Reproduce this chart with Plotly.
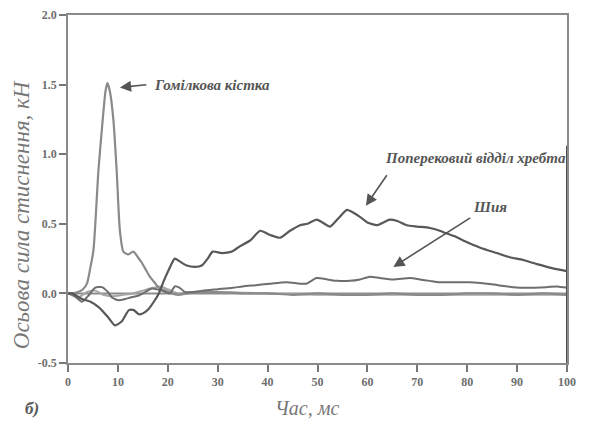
import plotly.graph_objects as go

# ---- data ----
tibia_x = [0, 1, 2, 3, 3.8, 4.4, 5.1, 6.1, 6.95, 7.5, 7.9, 8.4, 9.1, 9.75, 10.4, 11.1, 12.0, 13.1,
           14.0, 14.8, 15.6, 16.4, 17.3, 18.2, 19.5, 20.8, 22, 24, 27, 30, 35, 40, 45, 50, 55, 60,
           65, 70, 75, 80, 85, 90, 95, 100]
tibia_y = [0, 0, 0.01, 0.03, 0.07, 0.17, 0.31, 0.885, 1.245, 1.45, 1.51, 1.45, 1.245, 0.885, 0.45,
           0.30, 0.28, 0.30, 0.26, 0.22, 0.17, 0.12, 0.08, 0.04, 0.02, 0.0, -0.01, 0.0, 0.01, 0.01,
           0.0, 0.0, -0.01, 0.0, -0.01, -0.01, 0.0, -0.01, -0.01, 0.0, 0.0, -0.01, 0.0, -0.01]

lumbar_x = [0, 0.8, 2.8, 4.5, 6.2, 8, 9.4, 10.8, 12.2, 13.2, 14.2, 15.2, 16.2, 17.2, 18.2, 19.2,
            20.2, 21.4, 22.4, 23.8, 25.5, 26.8, 28, 29, 30.8, 32.8, 34.5, 36.5, 38.5, 40.5, 42.5,
            44.5, 46.5, 48, 49.8, 51, 52.5, 54.2, 55.9, 57.2, 58.5, 60, 61.9, 63.2, 64.5, 66, 67.9,
            70, 72.5, 74.5, 75.9, 77.5, 79.2, 82.5, 85.9, 88.5, 91.2, 94, 97.2, 100]
lumbar_y = [0, 0, -0.04, -0.06, -0.1, -0.17, -0.23, -0.2, -0.12, -0.12, -0.15, -0.14, -0.11, -0.06,
            0, 0.09, 0.17, 0.25, 0.23, 0.2, 0.19, 0.2, 0.25, 0.3, 0.29, 0.3, 0.34, 0.38, 0.45, 0.42,
            0.40, 0.45, 0.49, 0.5, 0.53, 0.51, 0.48, 0.54, 0.6, 0.58, 0.55, 0.51, 0.49, 0.51, 0.53,
            0.52, 0.49, 0.48, 0.47, 0.45, 0.43, 0.41, 0.38, 0.33, 0.29, 0.26, 0.24, 0.21, 0.18, 0.16]

neck_x = [0, 1, 2.8, 4, 5.4, 6.8, 8, 8.8, 10.2, 11.5, 12.5, 14.2, 15.5, 16.8, 18.8, 20.4, 21.4,
          22.4, 23.4, 25, 27, 30, 33, 35, 38, 40.5, 43.8, 46.5, 47.8, 49.8, 52, 54, 56.5, 58.5,
          60.5, 62.5, 65.2, 68.5, 70.5, 72.5, 74.5, 77.5, 80.5, 84, 86, 89.2, 92, 95.9, 98, 100]
neck_y = [0, -0.01, -0.06, -0.02, 0.04, 0.045, 0.01, -0.03, -0.05, -0.04, -0.03, -0.015, 0.01,
          0.035, 0.02, 0.0, 0.05, 0.04, 0.01, 0.01, 0.02, 0.03, 0.04, 0.05, 0.06, 0.07, 0.08,
          0.07, 0.07, 0.11, 0.1, 0.09, 0.09, 0.1, 0.12, 0.11, 0.1, 0.11, 0.1, 0.09, 0.08, 0.08,
          0.08, 0.07, 0.06, 0.045, 0.04, 0.045, 0.05, 0.04]

other_x = [0, 2, 3.8, 5.5, 7, 9, 11, 13, 15, 17, 18.5, 20, 22, 25, 30, 40, 50, 60, 70, 80, 90, 100]
other_y = [0, -0.03, 0.01, 0.02, -0.01, -0.02, -0.01, 0.0, 0.02, 0.04, 0.05, 0.03, 0.0, 0.01,
           0.01, 0.0, -0.01, -0.01, -0.01, -0.01, -0.01, -0.01]

x_ticks = [0, 10, 20, 30, 40, 50, 60, 70, 80, 90, 100]
y_ticks = [-0.5, 0.0, 0.5, 1.0, 1.5, 2.0]
y_tick_labels = ["-0.5", "0.0", "0.5", "1.0", "1.5", "2.0"]

x_title = "Час, мс"
y_title = "Осьова сила стиснення, кН"
lbl_tibia = "Гомілкова кістка"
lbl_lumbar = "Поперековий відділ хребта"
lbl_neck = "Шия"
panel = "б)"

SERIF = "Liberation Serif, Times New Roman, serif"

fig = go.Figure()

# zero reference line
fig.add_trace(go.Scatter(x=[0, 100], y=[0, 0], mode="lines",
                         line=dict(color="#8c8c8c", width=2), hoverinfo="skip"))

sp = dict(shape="spline", smoothing=0.6)
fig.add_trace(go.Scatter(x=other_x, y=other_y, mode="lines", line=dict(color="#a6a6a6", width=2, **sp)))
fig.add_trace(go.Scatter(x=tibia_x, y=tibia_y, mode="lines", line=dict(color="#8a8a8a", width=2.2, **sp)))
fig.add_trace(go.Scatter(x=neck_x, y=neck_y, mode="lines", line=dict(color="#6e6e6e", width=2, **sp)))
fig.add_trace(go.Scatter(x=lumbar_x, y=lumbar_y, mode="lines", line=dict(color="#585858", width=2.2, **sp)))

# darker lower part of the right frame edge (as in the scan)
fig.add_shape(type="line", xref="x", yref="y", x0=100, x1=100, y0=-0.5, y1=1.06,
              line=dict(color="#505050", width=2))

afont = dict(family=SERIF, size=15, color="#555555", weight="bold")

arrow = dict(showarrow=True, arrowhead=2, arrowsize=1.4, arrowwidth=1.6, arrowcolor="#555555",
             xref="x", yref="y", axref="x", ayref="y", text="")

fig.add_annotation(x=10.4, y=1.48, ax=16.0, ay=1.50, **arrow)
fig.add_annotation(x=16.8, y=1.50, xref="x", yref="y", text="<i>" + lbl_tibia + "</i>",
                   showarrow=False, xanchor="left", yanchor="middle", font=afont)

fig.add_annotation(x=59.7, y=0.63, ax=64.1, ay=0.86, **arrow)
fig.add_annotation(x=81.6, y=0.97, xref="x", yref="y", text="<i>" + lbl_lumbar + "</i>",
                   showarrow=False, xanchor="center", yanchor="middle", font=afont)

fig.add_annotation(x=65.2, y=0.19, ax=80.9, ay=0.55, **arrow)
fig.add_annotation(x=84.6, y=0.62, xref="x", yref="y", text="<i>" + lbl_neck + "</i>",
                   showarrow=False, xanchor="center", yanchor="middle", font=afont)

# axis titles and panel label
fig.add_annotation(x=0.479, y=-0.13, xref="paper", yref="paper", text="<i>" + x_title + "</i>",
                   showarrow=False, yanchor="middle",
                   font=dict(family=SERIF, size=20, color="#777777"))
fig.add_annotation(x=-0.094, y=0.425, xref="paper", yref="paper", text="<i>" + y_title + "</i>",
                   showarrow=False, textangle=-90, xanchor="center", yanchor="middle",
                   font=dict(family=SERIF, size=23, color="#777777"))
fig.add_annotation(x=-0.09, y=-0.13, xref="paper", yref="paper", text="<i><b>" + panel + "</b></i>",
                   showarrow=False, yanchor="middle",
                   font=dict(family=SERIF, size=17, color="#555555"))

tickfont = dict(family=SERIF, size=12, color="#6e6e6e", weight="bold")
fig.update_xaxes(range=[0, 100], tickvals=x_ticks, ticks="outside", ticklen=7, tickwidth=1.5,
                 tickcolor="#777777", showline=True, linecolor="#8a8a8a", linewidth=1.5,
                 mirror=True, showgrid=False, zeroline=False, tickfont=tickfont, automargin=False)
fig.update_yaxes(range=[-0.5, 2.0], tickvals=y_ticks, ticktext=y_tick_labels, ticks="outside",
                 ticklen=7, tickwidth=1.5, tickcolor="#777777", showline=True, linecolor="#8a8a8a",
                 linewidth=1.5, mirror=True, showgrid=False, zeroline=False, tickfont=tickfont,
                 automargin=False)

# page body adds an 8px offset; margins compensate so the plot area lands at x 68-567, y 15-363
fig.update_layout(width=599, height=421, margin=dict(l=60, r=40, t=7, b=66),
                  paper_bgcolor="white", plot_bgcolor="white", showlegend=False)

fig.write_html("out.html")
